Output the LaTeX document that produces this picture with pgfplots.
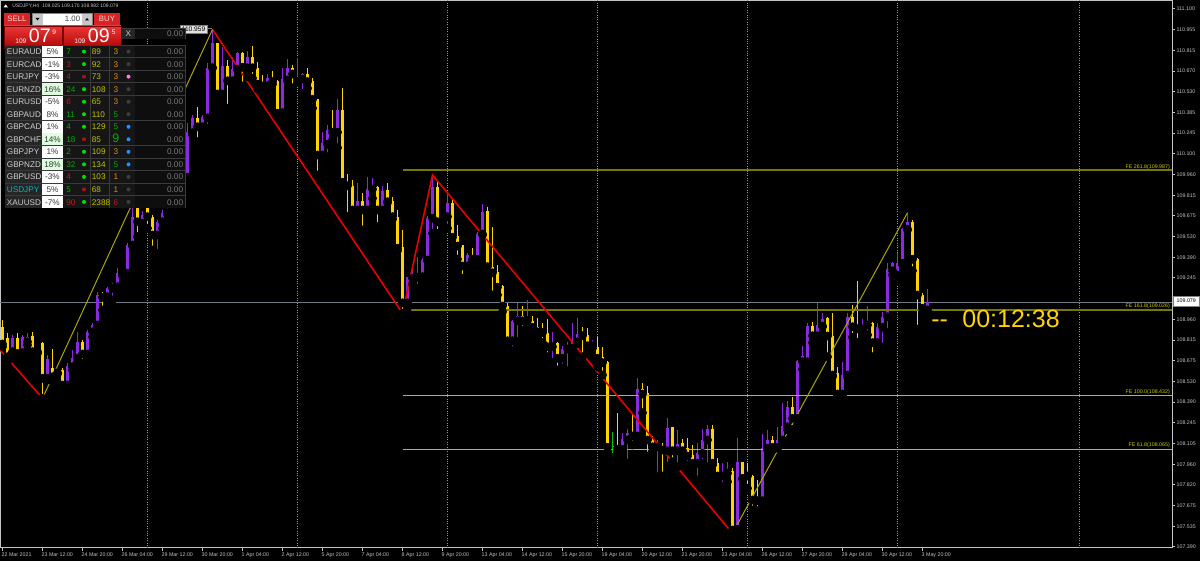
\documentclass[border=0pt]{standalone}
\usepackage{pgfplots}
\pgfplotsset{compat=1.18}
\usepackage{pgfplotstable}
\usepackage{fontspec}
\setmainfont{Liberation Sans}

\definecolor{bullc}{RGB}{138,43,226}
\definecolor{bearc}{RGB}{255,212,0}
\definecolor{dojic}{RGB}{0,190,0}
\definecolor{axisc}{RGB}{195,195,195}
\definecolor{sepc}{RGB}{150,150,150}
\definecolor{pricec}{RGB}{112,122,134}
\definecolor{feolive}{RGB}{120,120,0}
\definecolor{feyel}{RGB}{190,190,0}
\definecolor{fetext}{RGB}{205,205,0}
\definecolor{redline}{RGB}{235,0,0}
\definecolor{diagc}{RGB}{175,165,0}
\definecolor{btnred}{RGB}{215,35,35}
\definecolor{btntext}{RGB}{255,215,215}
\definecolor{bigtop}{RGB}{235,55,55}
\definecolor{bigbot}{RGB}{175,5,5}
\definecolor{bigedge}{RGB}{120,0,0}
\definecolor{tblline}{RGB}{58,58,58}
\definecolor{namebg}{RGB}{38,38,38}
\definecolor{cellbg}{RGB}{22,22,22}
\definecolor{valbg}{RGB}{14,14,14}
\definecolor{nametxt}{RGB}{205,205,205}
\definecolor{nameteal}{RGB}{0,185,195}
\definecolor{pctg}{RGB}{222,252,222}
\definecolor{pcttxt}{RGB}{55,55,55}
\definecolor{tgreen}{RGB}{0,170,0}
\definecolor{tred}{RGB}{205,20,20}
\definecolor{torange}{RGB}{230,140,0}
\definecolor{tyel}{RGB}{195,195,0}
\definecolor{dotg}{RGB}{0,225,0}
\definecolor{dotr}{RGB}{165,20,20}
\definecolor{dotgray}{RGB}{62,62,62}
\definecolor{dotpink}{RGB}{255,125,225}
\definecolor{dotblue}{RGB}{30,144,255}
\definecolor{valtxt}{RGB}{120,120,120}
\definecolor{tagfill}{RGB}{225,225,225}

\newcommand\tickfont{\fontsize{2.65pt}{3pt}\selectfont}
\newcommand\tblfont{\fontsize{4.1pt}{5pt}\selectfont}
\newcommand\btnfont{\fontsize{3.9pt}{4.5pt}\selectfont}

% H4 candles, x = bar number (0 = 22 Mar 04:00)
\pgfplotstableread{
x o h l c
2 108.737 108.852 108.725 108.829
4 108.730 108.852 108.721 108.840
5 108.805 108.863 108.783 108.840
7 108.737 108.760 108.725 108.753
9 108.553 108.714 108.541 108.684
11 108.592 108.622 108.583 108.610
13 108.507 108.657 108.484 108.638
14 108.633 108.748 108.610 108.691
15 108.691 108.874 108.667 108.805
17 108.721 108.886 108.714 108.874
18 108.874 108.932 108.840 108.921
19 108.921 109.150 108.909 109.128
21 109.116 109.185 109.081 109.174
22 109.174 109.208 109.093 109.197
23 109.185 109.312 109.174 109.277
25 109.277 109.484 109.254 109.472
26 109.472 109.725 109.465 109.668
28 109.622 109.707 109.603 109.679
31 109.541 109.645 109.415 109.633
32 109.633 109.714 109.588 109.695
33 109.695 109.748 109.679 109.719
34 109.721 109.886 109.700 109.852
36 109.783 109.990 109.755 109.941
37 109.939 110.312 109.932 110.254
38 110.247 110.369 110.231 110.346
40 110.288 110.369 110.277 110.353
41 110.350 110.730 110.277 110.695
42 110.695 110.959 110.693 110.863
44 110.514 110.840 110.507 110.707
46 110.605 110.771 110.588 110.684
47 110.684 110.805 110.679 110.794
49 110.695 110.810 110.633 110.771
53 110.571 110.650 110.514 110.626
56 110.385 110.691 110.381 110.615
57 110.610 110.755 110.603 110.695
59 110.599 110.760 110.599 110.626
60 110.617 110.657 110.519 110.650
64 110.093 110.250 110.081 110.174
65 110.167 110.300 110.081 110.265
67 110.250 110.479 110.143 110.403
71 109.714 109.898 109.707 109.776
73 109.714 109.939 109.709 109.857
74 109.857 109.932 109.794 109.874
76 109.714 109.879 109.686 109.847
81 109.074 109.254 109.036 109.250
82 109.243 109.328 109.203 109.259
83 109.250 109.392 109.174 109.254
84 109.254 109.381 109.212 109.369
85 109.369 109.672 109.364 109.657
86 109.657 109.955 109.553 109.874
88 109.633 109.668 109.610 109.657
89 109.668 109.840 109.588 109.764
93 109.328 109.415 109.314 109.403
95 109.374 109.564 109.369 109.548
96 109.548 109.755 109.541 109.702
102 108.812 108.955 108.743 108.950
103 108.950 109.070 108.805 108.983
105 108.950 109.093 108.909 108.960
110 108.771 108.874 108.661 108.799
112 108.691 108.776 108.622 108.755
113 108.755 108.805 108.605 108.764
114 108.760 108.937 108.748 108.805
115 108.805 108.967 108.794 108.857
118 108.778 108.817 108.760 108.794
124 108.063 108.178 108.059 108.134
125 108.128 108.201 107.967 108.178
127 108.155 108.553 108.146 108.477
131 108.079 108.128 107.874 108.086
133 108.054 108.277 107.943 108.208
135 108.054 108.197 107.943 108.100
139 107.967 108.105 107.852 108.040
140 108.036 108.201 107.967 108.128
141 108.128 108.231 107.943 108.203
144 107.879 107.967 107.805 107.902
145 107.898 107.978 107.840 107.914
147 107.512 108.139 107.507 107.974
152 107.709 108.169 107.668 108.070
153 108.070 108.197 108.059 108.128
155 108.077 108.219 108.070 108.128
156 108.128 108.385 108.116 108.224
157 108.219 108.399 108.197 108.353
159 108.277 108.679 108.270 108.672
160 108.667 108.776 108.615 108.707
161 108.667 108.932 108.657 108.914
163 108.847 109.074 108.812 108.921
164 108.914 109.005 108.909 108.960
168 108.445 108.667 108.438 108.576
169 108.576 109.001 108.564 108.978
172 108.893 108.960 108.859 108.921
173 108.921 109.052 108.852 108.932
175 108.799 108.937 108.790 108.909
176 108.905 109.012 108.767 108.978
177 108.978 109.346 108.868 109.305
178 109.295 109.357 109.265 109.346
179 109.265 109.415 109.231 109.346
180 109.346 109.588 109.334 109.581
181 109.581 109.695 109.576 109.633
185 109.025 109.170 108.982 109.079
}\bull

\pgfplotstableread{
x o h l c
0 108.909 108.955 108.771 108.790
1 108.829 108.863 108.667 108.702
3 108.829 108.863 108.714 108.725
6 108.845 108.874 108.725 108.737
8 108.794 108.805 108.415 108.553
10 108.622 108.753 108.541 108.564
12 108.610 108.622 108.484 108.507
16 108.805 108.817 108.657 108.721
20 109.128 109.150 109.024 109.112
24 109.281 109.288 109.259 109.272
27 109.725 109.737 109.530 109.633
29 109.725 109.748 109.588 109.668
30 109.668 109.679 109.438 109.541
35 109.852 109.900 109.741 109.783
39 110.346 110.426 110.185 110.288
43 110.863 110.868 110.507 110.514
45 110.707 110.748 110.415 110.605
48 110.794 110.805 110.569 110.698
50 110.771 110.847 110.622 110.695
51 110.695 110.737 110.548 110.581
52 110.583 110.645 110.553 110.569
54 110.626 110.672 110.581 110.599
55 110.603 110.610 110.369 110.381
58 110.695 110.714 110.557 110.652
61 110.650 110.691 110.553 110.599
62 110.605 110.626 110.415 110.477
63 110.479 110.479 109.955 110.093
66 110.259 110.403 110.197 110.250
68 110.403 110.553 109.874 109.905
69 109.909 109.960 109.668 109.881
70 109.881 109.921 109.707 109.714
72 109.776 109.829 109.576 109.714
75 109.874 109.879 109.599 109.714
77 109.852 109.898 109.764 109.771
78 109.776 109.801 109.650 109.668
79 109.668 109.714 109.433 109.450
80 109.457 109.576 109.001 109.074
87 109.874 109.921 109.553 109.633
90 109.764 109.783 109.461 109.525
91 109.534 109.610 109.374 109.465
92 109.470 109.472 109.243 109.328
94 109.403 109.450 109.357 109.374
97 109.707 109.737 109.281 109.323
98 109.323 109.594 109.128 109.281
99 109.284 109.334 109.128 109.181
100 109.190 109.197 109.012 109.052
101 109.052 109.074 108.790 108.812
104 108.983 109.052 108.886 108.950
106 108.950 108.983 108.886 108.905
107 108.909 108.967 108.817 108.874
108 108.879 108.932 108.799 108.868
109 108.868 108.960 108.702 108.771
111 108.799 108.805 108.610 108.691
116 108.857 108.909 108.702 108.847
117 108.852 108.898 108.771 108.778
119 108.769 108.840 108.633 108.691
120 108.698 108.767 108.576 108.661
121 108.663 108.674 108.036 108.077
123 108.086 108.312 108.008 108.063
126 108.178 108.316 108.093 108.155
128 108.477 108.523 108.316 108.445
129 108.454 108.500 108.017 108.128
130 108.132 108.155 108.047 108.081
132 108.086 108.109 107.879 108.059
134 108.215 108.219 107.978 108.054
136 108.105 108.132 108.001 108.054
137 108.070 108.139 107.955 108.017
138 108.024 108.093 107.916 107.967
142 108.203 108.231 107.955 107.967
143 107.967 108.001 107.857 107.879
146 107.914 107.932 107.484 107.507
148 107.974 107.978 107.857 107.863
149 107.898 107.967 107.794 107.879
150 107.879 107.886 107.645 107.714
151 107.719 107.852 107.640 107.709
154 108.128 108.155 108.063 108.077
158 108.353 108.426 108.201 108.277
162 108.914 108.943 108.799 108.847
165 108.967 108.974 108.702 108.845
166 108.845 109.001 108.564 108.576
167 108.588 108.629 108.438 108.445
170 108.978 109.059 108.836 108.909
171 108.914 109.224 108.799 108.895
174 108.932 108.943 108.702 108.799
182 109.633 109.645 109.295 109.374
183 109.374 109.381 108.891 109.128
184 109.128 109.139 108.990 109.036
}\bear

\pgfplotsset{
  wick/.style={only marks, mark=none, forget plot,
    error bars/.cd, y dir=plus, y explicit, error mark=none,
    error bar style={draw=#1, line width=0.5pt}},
  body/.style={only marks, mark=none, forget plot,
    error bars/.cd, y dir=plus, y explicit, error mark=none,
    error bar style={draw=#1, line width=1.75pt}},
}

\begin{document}
\begin{tikzpicture}
\fill[black] (0,-6.5pt) rectangle (600pt,274pt);
\begin{axis}[
  at={(0,0)}, anchor=south west,
  scale only axis, width=586pt, height=273.5pt,
  xmin=-0.5, xmax=233.9, ymin=107.383, ymax=111.155,
  axis line style={draw=axisc, line width=0.5pt},
  xtick={0,8,...,184},
  xticklabels={22 Mar 2021,23 Mar 12:00,24 Mar 20:00,26 Mar 04:00,29 Mar 12:00,30 Mar 20:00,1 Apr 04:00,2 Apr 12:00,5 Apr 20:00,7 Apr 04:00,8 Apr 12:00,9 Apr 20:00,13 Apr 04:00,14 Apr 12:00,15 Apr 20:00,19 Apr 04:00,20 Apr 12:00,21 Apr 20:00,23 Apr 04:00,26 Apr 12:00,27 Apr 20:00,29 Apr 04:00,30 Apr 12:00,3 May 20:00},
  ytick={107.390,107.5327,107.6754,107.8181,107.9608,108.1035,108.2462,108.3888,108.5315,108.6742,108.8169,108.9596,109.1023,109.2450,109.3877,109.5304,109.6731,109.8158,109.9585,110.1011,110.2438,110.3865,110.5292,110.6719,110.8146,110.9573,111.100},
  yticklabels={107.390,107.535,107.675,107.820,107.960,108.105,108.245,108.390,108.530,108.675,108.815,108.960,109.105,109.245,109.390,109.530,109.675,109.815,109.960,110.100,110.245,110.385,110.530,110.670,110.815,110.955,111.100},
  xtick pos=bottom, ytick pos=right, yticklabel pos=right,
  tick align=outside, major tick length=1.5pt,
  tick style={draw=axisc, line width=0.5pt},
  ticklabel style={font=\tickfont, text=axisc, inner sep=0pt},
  xticklabel style={anchor=north west, xshift=-0.6pt, yshift=-0.8pt},
  yticklabel style={anchor=west, xshift=0.6pt},
]
% period separators
\pgfplotsinvokeforeach{29,59,89,119,149,179,215.3}{
  \addplot[sepc, line width=0.5pt, dash pattern=on 0.5pt off 0.7pt, forget plot]
    coordinates {(#1,107) (#1,112)};
}
% bid line
\addplot[pricec, line width=0.5pt, forget plot] coordinates {(-1,109.079) (240,109.079)};

% candles
\addplot[wick=bullc] table[x=x, y=l, y error plus expr=\thisrow{h}-\thisrow{l}] {\bull};
\addplot[body=bullc] table[x=x, y=o, y error plus expr=\thisrow{c}-\thisrow{o}] {\bull};
\addplot[wick=bearc] table[x=x, y=l, y error plus expr=\thisrow{h}-\thisrow{l}] {\bear};
\addplot[body=bearc] table[x=x, y=c, y error plus expr=\thisrow{o}-\thisrow{c}] {\bear};
\addplot[wick=dojic] coordinates {(122,108.008) +- (0,0.177)};
\addplot[dojic, line width=0.5pt, forget plot] coordinates {(121.65,108.080) (122.35,108.080)};

% Fibonacci expansion levels
\addplot[draw=feolive, line width=1pt, forget plot] coordinates {(80.1,109.987) (240,109.987)};
\addplot[draw=feolive, line width=1pt, forget plot] coordinates {(80.1,109.026) (240,109.026)};
\addplot[draw=feyel, line width=0.5pt, forget plot] coordinates {(80.1,108.432) (240,108.432)};
\addplot[draw=feyel, line width=0.5pt, forget plot] coordinates {(80.1,108.065) (240,108.065)};
\node[anchor=south east, inner sep=0.4pt, text=fetext, font=\tickfont] at (axis cs:233.7,109.987) {FE 261.8(109.987)};
\node[anchor=south east, inner sep=0.4pt, text=fetext, font=\tickfont] at (axis cs:233.7,109.026) {FE 161.8(109.026)};
\node[anchor=south east, inner sep=0.4pt, text=fetext, font=\tickfont] at (axis cs:233.7,108.432) {FE 100.0(108.432)};
\node[anchor=south east, inner sep=0.4pt, text=fetext, font=\tickfont] at (axis cs:233.7,108.065) {FE 61.8(108.065)};

% zigzag and trend lines
\addplot[draw=redline, line width=0.8pt, forget plot] coordinates {(-0.5,108.750) (8,108.415)};
\addplot[draw=redline, line width=0.8pt, forget plot] coordinates {(42,110.959) (80,109.001) (86,109.955) (146,107.484)};
\addplot[draw=diagc, line width=0.5pt, forget plot] coordinates {(8,108.415) (42,110.959)};
\addplot[draw=diagc, line width=0.5pt, forget plot] coordinates {(146,107.484) (181,109.695)};
\end{axis}

% overlays in image pixels (origin top left)
\begin{scope}[shift={(0,274pt)}, x=0.5pt, y=-0.5pt]
  % bid price tag
  \fill[white] (1173,296) rectangle (1199.5,306);
  \draw[gray, line width=0.25pt] (1173,296) rectangle (1199.5,306);
  \node[text=black, font=\tickfont, inner sep=0] at (1186.3,301) {109.079};
  % countdown
  \node[anchor=base west, inner sep=0, text=bearc, font=\fontsize{12.5pt}{14pt}\selectfont] at (931,328) {-{}-};
  \node[anchor=base west, inner sep=0, text=bearc, font=\fontsize{12.5pt}{14pt}\selectfont] at (962,328) {00:12:38};
  % high label
  \draw[gray, line width=0.5pt] (207,29) -- (212,29);
  \fill[tagfill] (180,25) rectangle (207,33.5);
  \draw[gray, line width=0.4pt] (180,25) rectangle (207,33.5);
  \node[text=black, font=\fontsize{3.3pt}{4pt}\selectfont, inner sep=0] at (193.5,29.3) {110.959};
  % title
  \fill[white] (3.5,7.5) -- (8,7.5) -- (5.75,4.5) -- cycle;
  \node[anchor=base west, inner sep=0, text=axisc, font=\fontsize{2.5pt}{3pt}\selectfont] at (12,8) {USDJPY,H4\ \ 109.025 109.170 108.982 109.079};
  % one click trading
  \fill[btnred] (4,13) rectangle (30,25);
  \node[text=btntext, font=\btnfont, inner sep=0] at (17,19) {SELL};
  \fill[white] (32,13) rectangle (92,25);
  \fill[black!22] (32,13) rectangle (43,25);
  \fill[black!22] (82,13) rectangle (92,25);
  \draw[gray, line width=0.3pt] (32,13) rectangle (92,25);
  \fill[black] (35.5,18) -- (39.5,18) -- (37.5,20.5) -- cycle;
  \fill[black] (85,20.5) -- (89,20.5) -- (87,18) -- cycle;
  \node[anchor=east, text=black!75, font=\btnfont, inner sep=0] at (80.5,19) {1.00};
  \fill[btnred] (94,13) rectangle (120,25);
  \node[text=btntext, font=\btnfont, inner sep=0] at (107,19) {BUY};
  \shade[top color=bigtop, bottom color=bigbot] (4,26) rectangle (62,48);
  \draw[bigedge, line width=0.4pt] (4,26) rectangle (62,48);
  \shade[top color=bigtop, bottom color=bigbot] (63,26) rectangle (121,48);
  \draw[bigedge, line width=0.4pt] (63,26) rectangle (121,48);
  \node[anchor=base west, inner sep=0, text=white, font=\fontsize{3.3pt}{4pt}\selectfont] at (15,44) {109};
  \node[anchor=base west, inner sep=0, text=white, font=\fontsize{9.8pt}{11pt}\selectfont] at (28.5,43) {07};
  \node[anchor=base west, inner sep=0, text=white, font=\fontsize{3.3pt}{4pt}\selectfont] at (52,35) {9};
  \node[anchor=base west, inner sep=0, text=white, font=\fontsize{3.3pt}{4pt}\selectfont] at (74,44) {109};
  \node[anchor=base west, inner sep=0, text=white, font=\fontsize{9.8pt}{11pt}\selectfont] at (87.5,43) {09};
  \node[anchor=base west, inner sep=0, text=white, font=\fontsize{3.3pt}{4pt}\selectfont] at (111.5,35) {5};
  % close row
  \fill[tblline] (121.5,28.5) rectangle (185.5,39.5);
  \fill[namebg] (122.3,29.3) rectangle (134.5,38.8);
  \fill[valbg] (135.3,29.3) rectangle (184.8,38.8);
  \node[text=nametxt, font=\tblfont, inner sep=0] at (128.4,34) {X};
  \node[anchor=east, text=valtxt, font=\tblfont, inner sep=0] at (183.5,34) {0.00};
  % currency table
  \fill[tblline] (4.5,45) rectangle (185.5,208);
  \foreach \nm/\nmc/\pc/\pbg/\ra/\rac/\da/\rb/\rc/\rcc/\db [count=\i from 0] in {
    EURAUD/nametxt/5\%/white/7/tgreen/dotg/89/3/torange/dotgray,
    EURCAD/nametxt/-1\%/white/3/tred/dotg/92/3/torange/dotgray,
    EURJPY/nametxt/-3\%/white/4/tred/dotr/73/3/torange/dotpink,
    EURNZD/nametxt/16\%/pctg/24/tgreen/dotg/108/3/torange/dotgray,
    EURUSD/nametxt/-5\%/white/6/tred/dotg/65/3/torange/dotgray,
    GBPAUD/nametxt/8\%/white/11/tgreen/dotg/110/5/tgreen/dotgray,
    GBPCAD/nametxt/1\%/white/4/tgreen/dotg/129/5/tgreen/dotblue,
    GBPCHF/nametxt/14\%/pctg/18/tgreen/dotr/85/{\fontsize{6.2pt}{7pt}\selectfont 9}/tgreen/dotblue,
    GBPJPY/nametxt/1\%/white/2/tgreen/dotg/109/3/torange/dotblue,
    GBPNZD/nametxt/18\%/pctg/32/tgreen/dotg/134/5/tgreen/dotblue,
    GBPUSD/nametxt/-3\%/white/4/tred/dotg/103/1/torange/dotgray,
    USDJPY/nameteal/5\%/white/5/tgreen/dotr/68/1/torange/dotgray,
    XAUUSD/nametxt/-7\%/white/90/tred/dotg/2388/6/tred/dotgray} {
    \pgfmathsetmacro\yt{45.8+12.53*\i}
    \pgfmathsetmacro\yb{\yt+11.6}
    \pgfmathsetmacro\ybl{\yt+8.9}
    \pgfmathsetmacro\yc{\yt+5.8}
    \fill[namebg] (5.2,\yt) rectangle (41.7,\yb);
    \fill[\pbg] (42.4,\yt) rectangle (62.6,\yb);
    \fill[cellbg] (63.3,\yt) rectangle (90,\yb);
    \fill[cellbg] (90.7,\yt) rectangle (109.4,\yb);
    \fill[cellbg] (110.1,\yt) rectangle (121.6,\yb);
    \fill[cellbg] (122.3,\yt) rectangle (134.6,\yb);
    \fill[valbg] (135.3,\yt) rectangle (184.8,\yb);
    \node[anchor=base west, inner sep=0, text=\nmc, font=\tblfont] at (6.5,\ybl) {\nm};
    \node[anchor=base, inner sep=0, text=pcttxt, font=\tblfont] at (52.5,\ybl) {\pc};
    \node[anchor=base west, inner sep=0, text=\rac, font=\tblfont] at (66,\ybl) {\ra};
    \fill[\da] (84,\yc) circle (2);
    \node[anchor=base west, inner sep=0, text=tyel, font=\tblfont] at (91.5,\ybl) {\rb};
    \node[anchor=base, inner sep=0, text=\rcc, font=\tblfont] at (115.8,\ybl) {\rc};
    \fill[\db] (128.5,\yc) circle (2);
    \node[anchor=base east, inner sep=0, text=valtxt, font=\tblfont] at (183.5,\ybl) {0.00};
  }
\end{scope}
\pgfresetboundingbox
\useasboundingbox (0,-6.5pt) rectangle (600pt,274pt);
\end{tikzpicture}
\end{document}
